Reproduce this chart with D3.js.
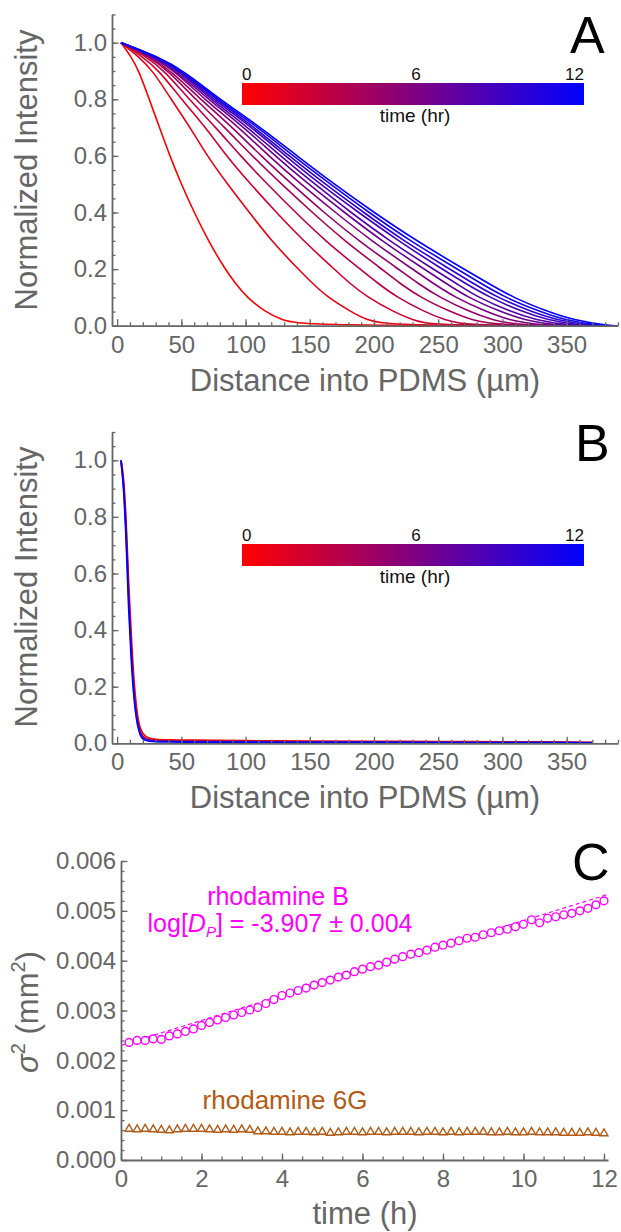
<!DOCTYPE html>
<html>
<head>
<meta charset="utf-8">
<script src="https://cdn.jsdelivr.net/npm/d3@7"></script>
<style>
  body { margin: 0; background: #fff; }
  svg { display: block; font-family: "Liberation Sans", Arial, sans-serif; }
</style>
</head>
<body>
<svg id="fig" width="621" height="1232"></svg>
<script>
// ---- data ----

// panel A: one profile per hour, distance (um) where each curve crosses these intensity levels
const hours = [0, 1, 2, 3, 4, 5, 6, 7, 8, 9, 10, 11, 12];
const levelsA = [1.0, 0.95, 0.9, 0.8, 0.7, 0.6, 0.5, 0.4, 0.3, 0.2, 0.15, 0.1, 0.05, 0.02, 0.0, 0.0];
const profilesA = [
  [3, 11, 17, 25, 33, 41, 50, 60, 71, 84, 92, 101, 115, 128, 145, 390],
  [3, 17, 28, 42, 57, 70, 86, 103, 120, 141, 152, 164, 182, 194, 212, 390],
  [3, 20, 33, 50, 69, 85, 104, 124, 145, 169, 181, 195, 215, 230, 245, 390],
  [3, 23, 37, 56, 77, 96, 117, 139, 162, 189, 203, 218, 239, 255, 272, 390],
  [3, 25, 40, 61, 84, 105, 128, 152, 177, 206, 220, 236, 259, 276, 295, 390],
  [3, 26, 42, 65, 90, 112, 136, 161, 188, 219, 234, 251, 274, 292, 312, 390],
  [3, 27, 45, 68, 95, 118, 143, 170, 198, 230, 246, 263, 287, 305, 327, 390],
  [3, 28, 46, 71, 99, 123, 149, 177, 206, 239, 256, 273, 298, 317, 340, 390],
  [3, 29, 48, 73, 102, 127, 154, 182, 212, 246, 264, 281, 306, 326, 350, 390],
  [3, 30, 49, 75, 105, 131, 158, 188, 219, 253, 271, 290, 315, 335, 360, 390],
  [3, 31, 50, 77, 107, 134, 162, 192, 223, 259, 277, 296, 322, 342, 368, 390],
  [3, 31, 51, 78, 110, 137, 166, 196, 228, 265, 283, 302, 329, 348, 376, 390],
  [3, 32, 52, 80, 112, 140, 169, 200, 233, 270, 289, 308, 335, 355, 383, 390]
];

// panel B: profiles nearly overlap, shown for 0, 6 and 12 h
const distB = [3, 5, 7, 9, 11, 13, 15, 17, 20, 25, 30, 40, 60, 100, 150, 200, 250, 300, 350, 370];
const hoursB = [0, 6, 12];
const profilesB = [
  [1.0, 0.93, 0.78, 0.56, 0.38, 0.23, 0.13, 0.07, 0.035, 0.018, 0.014, 0.012, 0.011, 0.009, 0.008, 0.007, 0.006, 0.005, 0.004, 0.003],
  [1.0, 0.91, 0.75, 0.52, 0.33, 0.19, 0.10, 0.055, 0.024, 0.012, 0.009, 0.008, 0.007, 0.006, 0.005, 0.005, 0.004, 0.003, 0.003, 0.002],
  [1.0, 0.90, 0.72, 0.48, 0.30, 0.17, 0.09, 0.045, 0.016, 0.008, 0.006, 0.005, 0.004, 0.004, 0.003, 0.003, 0.002, 0.002, 0.002, 0.001]
];

// panel C: sigma^2 (mm^2) vs time (h)
const timeC = [0.2, 0.4, 0.6, 0.8, 1.0, 1.2, 1.4, 1.6, 1.8, 2.0,
  2.2, 2.4, 2.6, 2.8, 3.0, 3.2, 3.4, 3.6, 3.8, 4.0,
  4.2, 4.4, 4.6, 4.8, 5.0, 5.2, 5.4, 5.6, 5.8, 6.0,
  6.2, 6.4, 6.6, 6.8, 7.0, 7.2, 7.4, 7.6, 7.8, 8.0,
  8.2, 8.4, 8.6, 8.8, 9.0, 9.2, 9.4, 9.6, 9.8, 10.0,
  10.2, 10.4, 10.6, 10.8, 11.0, 11.2, 11.4, 11.6, 11.8, 12.0];
const sigmaRhB = [0.00236, 0.00240, 0.00240, 0.00243, 0.00242, 0.00249, 0.00253, 0.00258, 0.00263, 0.00270,
  0.00276, 0.00281, 0.00286, 0.00291, 0.00296, 0.00301, 0.00306, 0.00314, 0.00322, 0.00330,
  0.00335, 0.00340, 0.00345, 0.00351, 0.00356, 0.00361, 0.00367, 0.00371, 0.00378, 0.00383,
  0.00388, 0.00391, 0.00397, 0.00403, 0.00408, 0.00413, 0.00416, 0.00421, 0.00427, 0.00431,
  0.00435, 0.00440, 0.00445, 0.00447, 0.00452, 0.00456, 0.00460, 0.00463, 0.00468, 0.00473,
  0.00482, 0.00476, 0.00485, 0.00488, 0.00492, 0.00495, 0.00500, 0.00505, 0.00512, 0.00520];
const sigmaRh6G = [0.00063, 0.00062, 0.00063, 0.00062, 0.00061, 0.00060, 0.00062, 0.00063, 0.00063, 0.00063,
  0.00062, 0.00061, 0.00062, 0.00061, 0.00062, 0.00061, 0.00058, 0.00058, 0.00057, 0.00057,
  0.00056, 0.00057, 0.00057, 0.00056, 0.00057, 0.00055, 0.00056, 0.00057, 0.00057, 0.00056,
  0.00057, 0.00057, 0.00056, 0.00057, 0.00057, 0.00057, 0.00056, 0.00057, 0.00057, 0.00056,
  0.00057, 0.00056, 0.00057, 0.00057, 0.00057, 0.00056, 0.00056, 0.00057, 0.00056, 0.00056,
  0.00057, 0.00056, 0.00056, 0.00056, 0.00055, 0.00055, 0.00055, 0.00056, 0.00055, 0.00054];
const fitRhB = [[0, 0.00230], [12.1, 0.00533]];

// ---- drawing ----
const svg = d3.select("#fig");
const gray = "#666";
const timeColor = d3.scaleLinear().domain([0, 12]).range(["#ff0000", "#0000ff"]).interpolate(d3.interpolateRgb);

function styleAxis(g, fontSize) {
  g.attr("font-family", null).attr("font-size", fontSize);
  g.select(".domain").attr("stroke", gray).attr("stroke-width", 1.8);
  g.selectAll(".tick line").attr("stroke", gray).attr("stroke-width", 1.3);
  g.selectAll(".tick text").attr("fill", gray);
}

function drawAxes(x, y, o) {
  const y0 = y.range()[0], x0 = x.range()[0];
  // minor ticks
  svg.append("g").attr("transform", `translate(0,${y0})`)
    .call(d3.axisBottom(x).tickValues(o.xMinor).tickSize(-3.5).tickFormat(""))
    .call(g => { g.select(".domain").remove(); styleAxis(g, 10); });
  svg.append("g").attr("transform", `translate(${x0},0)`)
    .call(d3.axisLeft(y).tickValues(o.yMinor).tickSize(-3.5).tickFormat(""))
    .call(g => { g.select(".domain").remove(); styleAxis(g, 10); });
  // major ticks + labels
  svg.append("g").attr("transform", `translate(0,${y0})`)
    .call(d3.axisBottom(x).tickValues(o.xMajor).tickSizeInner(-6.5).tickSizeOuter(0)
      .tickPadding(10).tickFormat(o.xFmt))
    .call(g => styleAxis(g, 24));
  svg.append("g").attr("transform", `translate(${x0},0)`)
    .call(d3.axisLeft(y).tickValues(o.yMajor).tickSizeInner(-6.5).tickSizeOuter(0)
      .tickPadding(5).tickFormat(o.yFmt))
    .call(g => styleAxis(g, 24));
}

function colorBar(x0, x1, top, id) {
  const grad = svg.append("defs").append("linearGradient").attr("id", id);
  grad.selectAll("stop").data([0, 6, 12]).join("stop")
    .attr("offset", d => (d / 12 * 100) + "%")
    .attr("stop-color", d => timeColor(d));
  svg.append("rect").attr("x", x0).attr("y", top).attr("width", x1 - x0).attr("height", 22)
    .attr("fill", `url(#${id})`);
  const lab = svg.append("g").attr("font-size", 17).attr("fill", "#111");
  lab.append("text").attr("x", x0).attr("y", top - 3).attr("text-anchor", "start").text("0");
  lab.append("text").attr("x", (x0 + x1) / 2 + 3).attr("y", top - 3).attr("text-anchor", "middle").text("6");
  lab.append("text").attr("x", x1).attr("y", top - 3).attr("text-anchor", "end").text("12");
  lab.append("text").attr("x", (x0 + x1) / 2 + 2).attr("y", top + 39).attr("font-size", 19)
    .attr("text-anchor", "middle").text("time (hr)");
}

function axisTitles(xTitle, xMid, xBase, yTitle, yMid) {
  svg.append("text").attr("x", xMid).attr("y", xBase).attr("text-anchor", "middle")
    .attr("font-size", 31).attr("fill", gray).text(xTitle);
  if (yTitle) {
    svg.append("text").attr("transform", `translate(37,${yMid}) rotate(-90)`)
      .attr("text-anchor", "middle").attr("font-size", 31).attr("fill", gray).text(yTitle);
  }
}

function panelLetter(t, x, y) {
  svg.append("text").attr("x", x).attr("y", y).attr("font-size", 52).attr("fill", "#000").text(t);
}

const xDist = d3.scaleLinear().domain([-4, 390]).range([112, 618]);
const distOpts = {
  xMajor: [0, 50, 100, 150, 200, 250, 300, 350], xMinor: d3.range(10, 391, 10), xFmt: d3.format("d"),
  yMajor: [0, 0.2, 0.4, 0.6, 0.8, 1.0], yMinor: d3.range(0.05, 1.11, 0.05), yFmt: d3.format(".1f")
};

// ---- panel A ----
const yA = d3.scaleLinear().domain([0, 1.1]).range([325.7, 14.4]);
const lineA = d3.line().x(d => xDist(d[0])).y(d => yA(d[1])).curve(d3.curveBasis);
svg.append("g").selectAll("path")
  .data(profilesA.map((p, k) => ({ h: hours[k], pts: p.map((xv, i) => [xv, levelsA[i]]) })))
  .join("path")
  .attr("d", d => lineA(d.pts))
  .attr("fill", "none").attr("stroke", d => timeColor(d.h)).attr("stroke-width", 1.6);
drawAxes(xDist, yA, distOpts);
colorBar(242, 584, 83, "gradA");
axisTitles("Distance into PDMS (\u00b5m)", 365, 391, "Normalized Intensity", 170);
panelLetter("A", 570, 53);

// ---- panel B ----
const yB = d3.scaleLinear().domain([0, 1.1]).range([743.3, 432]);
const lineB = d3.line().x((d, i) => xDist(distB[i])).y(d => yB(d)).curve(d3.curveMonotoneX);
svg.append("g").selectAll("path")
  .data(profilesB.map((p, k) => ({ h: hoursB[k], v: p })))
  .join("path")
  .attr("d", d => lineB(d.v))
  .attr("fill", "none").attr("stroke", d => timeColor(d.h)).attr("stroke-width", 1.8);
drawAxes(xDist, yB, distOpts);
colorBar(242, 584, 544, "gradB");
axisTitles("Distance into PDMS (\u00b5m)", 365, 808, "Normalized Intensity", 587);
panelLetter("B", 575, 461);

// ---- panel C ----
const magenta = "#ff00ff", brown = "#b35a14";
const xC = d3.scaleLinear().domain([0, 12.1]).range([121, 608]);
const yC = d3.scaleLinear().domain([0, 0.006]).range([1160, 861]);

svg.append("path").datum(fitRhB)
  .attr("d", d3.line().x(d => xC(d[0])).y(d => yC(d[1])))
  .attr("fill", "none").attr("stroke", magenta).attr("stroke-width", 1.2).attr("stroke-dasharray", "4,3");

svg.append("g").selectAll("path")
  .data(timeC.map((t, i) => [t, sigmaRh6G[i]]))
  .join("path")
  .attr("transform", d => `translate(${xC(d[0])},${yC(d[1])})`)
  .attr("d", "M0,-4.2L3.9,2.6L-3.9,2.6Z")
  .attr("fill", "#fff").attr("stroke", brown).attr("stroke-width", 1.4);

svg.append("g").selectAll("circle")
  .data(timeC.map((t, i) => [t, sigmaRhB[i]]))
  .join("circle")
  .attr("cx", d => xC(d[0])).attr("cy", d => yC(d[1])).attr("r", 3.9)
  .attr("fill", "#fff").attr("stroke", magenta).attr("stroke-width", 1.4);

drawAxes(xC, yC, {
  xMajor: [0, 2, 4, 6, 8, 10, 12], xMinor: d3.range(0.5, 12.1, 0.5), xFmt: d3.format("d"),
  yMajor: [0, 0.001, 0.002, 0.003, 0.004, 0.005, 0.006], yMinor: d3.range(0.0002, 0.00601, 0.0002),
  yFmt: d3.format(".3f")
});
axisTitles("time (h)", 365, 1224, null, 0);

const yt = svg.append("text").attr("transform", "translate(38,1012) rotate(-90)")
  .attr("text-anchor", "middle").attr("font-size", 31).attr("fill", gray);
yt.append("tspan").attr("font-style", "italic").text("\u03c3");
yt.append("tspan").attr("font-size", 20).attr("dy", -13).text("2");
yt.append("tspan").attr("dy", 13).text(" (mm");
yt.append("tspan").attr("font-size", 20).attr("dy", -13).text("2");
yt.append("tspan").attr("dy", 13).text(")");

svg.append("text").attr("x", 278).attr("y", 905).attr("text-anchor", "middle")
  .attr("font-size", 25).attr("fill", magenta).text("rhodamine B");
const lg = svg.append("text").attr("x", 280).attr("y", 932).attr("text-anchor", "middle")
  .attr("font-size", 25).attr("fill", magenta);
lg.append("tspan").text("log[");
lg.append("tspan").attr("font-style", "italic").text("D");
lg.append("tspan").attr("font-style", "italic").attr("font-size", 15).attr("dy", 5).text("P");
lg.append("tspan").attr("dy", -5).text("] = -3.907 \u00b1 0.004");
svg.append("text").attr("x", 285).attr("y", 1109).attr("text-anchor", "middle")
  .attr("font-size", 26).attr("fill", brown).text("rhodamine 6G");
panelLetter("C", 572, 880);
</script>
</body>
</html>
